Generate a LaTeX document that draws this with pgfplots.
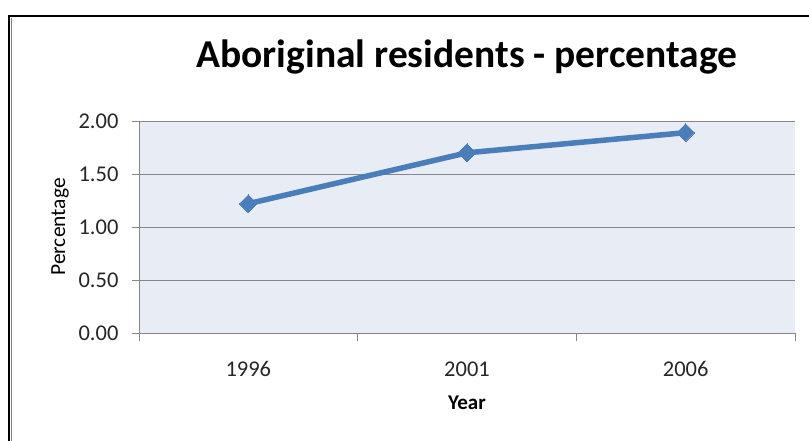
\documentclass[border=0pt]{standalone}
\usepackage{pgfplots}
\pgfplotsset{compat=1.18}
\usepackage{fontspec}
\setmainfont{Carlito}
\definecolor{bgcol}{HTML}{E8EDF5}
\definecolor{gridcol}{HTML}{868686}
\definecolor{linecol}{HTML}{4A7EBB}
\begin{document}
\begin{tikzpicture}
\useasboundingbox (0pt,0pt) rectangle (809pt,440pt);
\draw[black,line width=1.6pt] (9pt,-10pt) -- (9pt,424pt) -- (820pt,424pt);
\draw[gray,line width=0.6pt] (11.5pt,-10pt) -- (11.5pt,421.5pt);
\begin{axis}[
  at={(139pt,107pt)}, anchor=south west,
  scale only axis, width=656pt, height=212pt,
  xmin=-0.5, xmax=2.5, ymin=0, ymax=2,
  axis x line*=bottom, axis y line*=left,
  axis line style={gridcol, line width=0.8pt},
  axis background/.style={fill=bgcol},
  xtick={0,1,2}, xticklabels={1996,2001,2006},
  minor xtick={-0.5,0.5,1.5,2.5},
  major x tick style={draw=none},
  minor x tick style={gridcol, line width=0.8pt},
  minor tick length=8pt,
  ytick={0,0.5,1,1.5,2},
  y tick style={gridcol, line width=0.8pt},
  major tick length=7pt,
  tick align=outside,
  ymajorgrids, grid style={gridcol, line width=0.8pt},
  yticklabel style={/pgf/number format/fixed, /pgf/number format/precision=2, /pgf/number format/fixed zerofill, font=\fontsize{22.5}{24}\selectfont, xshift=-10pt, text=black!85},
  xticklabel style={font=\fontsize{22.5}{24}\selectfont, yshift=-18pt, text=black!85},
  /pgf/number format/assume math mode=true,
  xlabel={\textbf{Year}}, xlabel style={font=\fontsize{21}{22}\selectfont, yshift=-12pt},
  ylabel={Percentage}, ylabel style={font=\fontsize{21.5}{23}\selectfont, yshift=3pt},
  title={\textbf{Aboriginal residents - percentage}},
  title style={font=\fontsize{39.5}{44}\selectfont, at={(axis description cs:0.5,1)}, anchor=base, yshift=48pt},
  clip=false,
]
\addplot[linecol, line width=5.5pt, mark=square*, mark size=6.3pt, mark options={rotate=45, solid, fill=linecol, draw=linecol, line width=0pt}]
  coordinates {(0,1.22) (1,1.70) (2,1.89)};
\end{axis}
\end{tikzpicture}
\end{document}
